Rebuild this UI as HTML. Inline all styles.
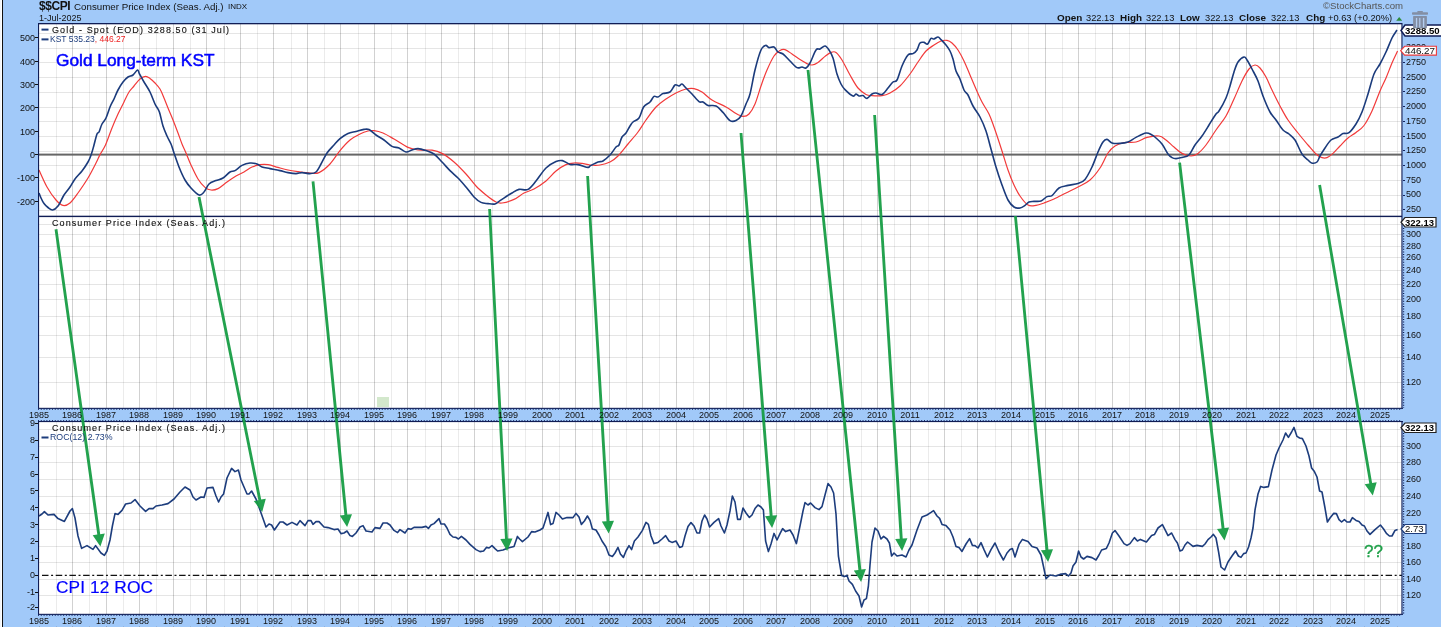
<!DOCTYPE html>
<html><head><meta charset="utf-8"><title>$$CPI</title>
<style>
html,body{margin:0;padding:0;}
body{width:1441px;height:627px;background:#a1c9f9;position:relative;overflow:hidden;font-family:"Liberation Sans",sans-serif;}
.t{position:absolute;white-space:nowrap;will-change:transform;font-family:"Liberation Sans",sans-serif;}
</style></head><body>
<svg width="1441" height="627" viewBox="0 0 1441 627" style="position:absolute;left:0;top:0">
<rect x="0" y="0" width="1" height="627" fill="#f3f6fa"/>
<rect x="1" y="0" width="1" height="627" fill="#ffffff"/>
<rect x="2" y="0" width="1" height="627" fill="#111111"/>
<rect x="38" y="23" width="1364" height="385" fill="#fff"/>
<rect x="38" y="421" width="1364" height="193" fill="#fff"/>
<g shape-rendering="crispEdges"><rect x="56" y="23" width="1" height="385" fill="#000" fill-opacity="0.08"/><rect x="72" y="23" width="1" height="385" fill="#000" fill-opacity="0.18"/><rect x="89" y="23" width="1" height="385" fill="#000" fill-opacity="0.08"/><rect x="106" y="23" width="1" height="385" fill="#000" fill-opacity="0.18"/><rect x="123" y="23" width="1" height="385" fill="#000" fill-opacity="0.08"/><rect x="139" y="23" width="1" height="385" fill="#000" fill-opacity="0.18"/><rect x="156" y="23" width="1" height="385" fill="#000" fill-opacity="0.08"/><rect x="173" y="23" width="1" height="385" fill="#000" fill-opacity="0.18"/><rect x="190" y="23" width="1" height="385" fill="#000" fill-opacity="0.08"/><rect x="206" y="23" width="1" height="385" fill="#000" fill-opacity="0.18"/><rect x="224" y="23" width="1" height="385" fill="#000" fill-opacity="0.08"/><rect x="240" y="23" width="1" height="385" fill="#000" fill-opacity="0.18"/><rect x="257" y="23" width="1" height="385" fill="#000" fill-opacity="0.08"/><rect x="273" y="23" width="1" height="385" fill="#000" fill-opacity="0.18"/><rect x="291" y="23" width="1" height="385" fill="#000" fill-opacity="0.08"/><rect x="307" y="23" width="1" height="385" fill="#000" fill-opacity="0.18"/><rect x="324" y="23" width="1" height="385" fill="#000" fill-opacity="0.08"/><rect x="340" y="23" width="1" height="385" fill="#000" fill-opacity="0.18"/><rect x="358" y="23" width="1" height="385" fill="#000" fill-opacity="0.08"/><rect x="374" y="23" width="1" height="385" fill="#000" fill-opacity="0.18"/><rect x="391" y="23" width="1" height="385" fill="#000" fill-opacity="0.08"/><rect x="407" y="23" width="1" height="385" fill="#000" fill-opacity="0.18"/><rect x="425" y="23" width="1" height="385" fill="#000" fill-opacity="0.08"/><rect x="441" y="23" width="1" height="385" fill="#000" fill-opacity="0.18"/><rect x="458" y="23" width="1" height="385" fill="#000" fill-opacity="0.08"/><rect x="474" y="23" width="1" height="385" fill="#000" fill-opacity="0.18"/><rect x="492" y="23" width="1" height="385" fill="#000" fill-opacity="0.08"/><rect x="508" y="23" width="1" height="385" fill="#000" fill-opacity="0.18"/><rect x="525" y="23" width="1" height="385" fill="#000" fill-opacity="0.08"/><rect x="542" y="23" width="1" height="385" fill="#000" fill-opacity="0.18"/><rect x="559" y="23" width="1" height="385" fill="#000" fill-opacity="0.08"/><rect x="575" y="23" width="1" height="385" fill="#000" fill-opacity="0.18"/><rect x="592" y="23" width="1" height="385" fill="#000" fill-opacity="0.08"/><rect x="609" y="23" width="1" height="385" fill="#000" fill-opacity="0.18"/><rect x="626" y="23" width="1" height="385" fill="#000" fill-opacity="0.08"/><rect x="642" y="23" width="1" height="385" fill="#000" fill-opacity="0.18"/><rect x="659" y="23" width="1" height="385" fill="#000" fill-opacity="0.08"/><rect x="676" y="23" width="1" height="385" fill="#000" fill-opacity="0.18"/><rect x="693" y="23" width="1" height="385" fill="#000" fill-opacity="0.08"/><rect x="709" y="23" width="1" height="385" fill="#000" fill-opacity="0.18"/><rect x="726" y="23" width="1" height="385" fill="#000" fill-opacity="0.08"/><rect x="743" y="23" width="1" height="385" fill="#000" fill-opacity="0.18"/><rect x="760" y="23" width="1" height="385" fill="#000" fill-opacity="0.08"/><rect x="776" y="23" width="1" height="385" fill="#000" fill-opacity="0.18"/><rect x="794" y="23" width="1" height="385" fill="#000" fill-opacity="0.08"/><rect x="810" y="23" width="1" height="385" fill="#000" fill-opacity="0.18"/><rect x="827" y="23" width="1" height="385" fill="#000" fill-opacity="0.08"/><rect x="843" y="23" width="1" height="385" fill="#000" fill-opacity="0.18"/><rect x="861" y="23" width="1" height="385" fill="#000" fill-opacity="0.08"/><rect x="877" y="23" width="1" height="385" fill="#000" fill-opacity="0.18"/><rect x="894" y="23" width="1" height="385" fill="#000" fill-opacity="0.08"/><rect x="910" y="23" width="1" height="385" fill="#000" fill-opacity="0.18"/><rect x="928" y="23" width="1" height="385" fill="#000" fill-opacity="0.08"/><rect x="944" y="23" width="1" height="385" fill="#000" fill-opacity="0.18"/><rect x="961" y="23" width="1" height="385" fill="#000" fill-opacity="0.08"/><rect x="977" y="23" width="1" height="385" fill="#000" fill-opacity="0.18"/><rect x="995" y="23" width="1" height="385" fill="#000" fill-opacity="0.08"/><rect x="1011" y="23" width="1" height="385" fill="#000" fill-opacity="0.18"/><rect x="1028" y="23" width="1" height="385" fill="#000" fill-opacity="0.08"/><rect x="1045" y="23" width="1" height="385" fill="#000" fill-opacity="0.18"/><rect x="1062" y="23" width="1" height="385" fill="#000" fill-opacity="0.08"/><rect x="1078" y="23" width="1" height="385" fill="#000" fill-opacity="0.18"/><rect x="1095" y="23" width="1" height="385" fill="#000" fill-opacity="0.08"/><rect x="1112" y="23" width="1" height="385" fill="#000" fill-opacity="0.18"/><rect x="1129" y="23" width="1" height="385" fill="#000" fill-opacity="0.08"/><rect x="1145" y="23" width="1" height="385" fill="#000" fill-opacity="0.18"/><rect x="1162" y="23" width="1" height="385" fill="#000" fill-opacity="0.08"/><rect x="1179" y="23" width="1" height="385" fill="#000" fill-opacity="0.18"/><rect x="1196" y="23" width="1" height="385" fill="#000" fill-opacity="0.08"/><rect x="1212" y="23" width="1" height="385" fill="#000" fill-opacity="0.18"/><rect x="1229" y="23" width="1" height="385" fill="#000" fill-opacity="0.08"/><rect x="1246" y="23" width="1" height="385" fill="#000" fill-opacity="0.18"/><rect x="1263" y="23" width="1" height="385" fill="#000" fill-opacity="0.08"/><rect x="1279" y="23" width="1" height="385" fill="#000" fill-opacity="0.18"/><rect x="1296" y="23" width="1" height="385" fill="#000" fill-opacity="0.08"/><rect x="1313" y="23" width="1" height="385" fill="#000" fill-opacity="0.18"/><rect x="1330" y="23" width="1" height="385" fill="#000" fill-opacity="0.08"/><rect x="1346" y="23" width="1" height="385" fill="#000" fill-opacity="0.18"/><rect x="1364" y="23" width="1" height="385" fill="#000" fill-opacity="0.08"/><rect x="1380" y="23" width="1" height="385" fill="#000" fill-opacity="0.18"/><rect x="1397" y="23" width="1" height="385" fill="#000" fill-opacity="0.08"/><rect x="56" y="421" width="1" height="193" fill="#000" fill-opacity="0.08"/><rect x="72" y="421" width="1" height="193" fill="#000" fill-opacity="0.18"/><rect x="89" y="421" width="1" height="193" fill="#000" fill-opacity="0.08"/><rect x="106" y="421" width="1" height="193" fill="#000" fill-opacity="0.18"/><rect x="123" y="421" width="1" height="193" fill="#000" fill-opacity="0.08"/><rect x="139" y="421" width="1" height="193" fill="#000" fill-opacity="0.18"/><rect x="156" y="421" width="1" height="193" fill="#000" fill-opacity="0.08"/><rect x="173" y="421" width="1" height="193" fill="#000" fill-opacity="0.18"/><rect x="190" y="421" width="1" height="193" fill="#000" fill-opacity="0.08"/><rect x="206" y="421" width="1" height="193" fill="#000" fill-opacity="0.18"/><rect x="224" y="421" width="1" height="193" fill="#000" fill-opacity="0.08"/><rect x="240" y="421" width="1" height="193" fill="#000" fill-opacity="0.18"/><rect x="257" y="421" width="1" height="193" fill="#000" fill-opacity="0.08"/><rect x="273" y="421" width="1" height="193" fill="#000" fill-opacity="0.18"/><rect x="291" y="421" width="1" height="193" fill="#000" fill-opacity="0.08"/><rect x="307" y="421" width="1" height="193" fill="#000" fill-opacity="0.18"/><rect x="324" y="421" width="1" height="193" fill="#000" fill-opacity="0.08"/><rect x="340" y="421" width="1" height="193" fill="#000" fill-opacity="0.18"/><rect x="358" y="421" width="1" height="193" fill="#000" fill-opacity="0.08"/><rect x="374" y="421" width="1" height="193" fill="#000" fill-opacity="0.18"/><rect x="391" y="421" width="1" height="193" fill="#000" fill-opacity="0.08"/><rect x="407" y="421" width="1" height="193" fill="#000" fill-opacity="0.18"/><rect x="425" y="421" width="1" height="193" fill="#000" fill-opacity="0.08"/><rect x="441" y="421" width="1" height="193" fill="#000" fill-opacity="0.18"/><rect x="458" y="421" width="1" height="193" fill="#000" fill-opacity="0.08"/><rect x="474" y="421" width="1" height="193" fill="#000" fill-opacity="0.18"/><rect x="492" y="421" width="1" height="193" fill="#000" fill-opacity="0.08"/><rect x="508" y="421" width="1" height="193" fill="#000" fill-opacity="0.18"/><rect x="525" y="421" width="1" height="193" fill="#000" fill-opacity="0.08"/><rect x="542" y="421" width="1" height="193" fill="#000" fill-opacity="0.18"/><rect x="559" y="421" width="1" height="193" fill="#000" fill-opacity="0.08"/><rect x="575" y="421" width="1" height="193" fill="#000" fill-opacity="0.18"/><rect x="592" y="421" width="1" height="193" fill="#000" fill-opacity="0.08"/><rect x="609" y="421" width="1" height="193" fill="#000" fill-opacity="0.18"/><rect x="626" y="421" width="1" height="193" fill="#000" fill-opacity="0.08"/><rect x="642" y="421" width="1" height="193" fill="#000" fill-opacity="0.18"/><rect x="659" y="421" width="1" height="193" fill="#000" fill-opacity="0.08"/><rect x="676" y="421" width="1" height="193" fill="#000" fill-opacity="0.18"/><rect x="693" y="421" width="1" height="193" fill="#000" fill-opacity="0.08"/><rect x="709" y="421" width="1" height="193" fill="#000" fill-opacity="0.18"/><rect x="726" y="421" width="1" height="193" fill="#000" fill-opacity="0.08"/><rect x="743" y="421" width="1" height="193" fill="#000" fill-opacity="0.18"/><rect x="760" y="421" width="1" height="193" fill="#000" fill-opacity="0.08"/><rect x="776" y="421" width="1" height="193" fill="#000" fill-opacity="0.18"/><rect x="794" y="421" width="1" height="193" fill="#000" fill-opacity="0.08"/><rect x="810" y="421" width="1" height="193" fill="#000" fill-opacity="0.18"/><rect x="827" y="421" width="1" height="193" fill="#000" fill-opacity="0.08"/><rect x="843" y="421" width="1" height="193" fill="#000" fill-opacity="0.18"/><rect x="861" y="421" width="1" height="193" fill="#000" fill-opacity="0.08"/><rect x="877" y="421" width="1" height="193" fill="#000" fill-opacity="0.18"/><rect x="894" y="421" width="1" height="193" fill="#000" fill-opacity="0.08"/><rect x="910" y="421" width="1" height="193" fill="#000" fill-opacity="0.18"/><rect x="928" y="421" width="1" height="193" fill="#000" fill-opacity="0.08"/><rect x="944" y="421" width="1" height="193" fill="#000" fill-opacity="0.18"/><rect x="961" y="421" width="1" height="193" fill="#000" fill-opacity="0.08"/><rect x="977" y="421" width="1" height="193" fill="#000" fill-opacity="0.18"/><rect x="995" y="421" width="1" height="193" fill="#000" fill-opacity="0.08"/><rect x="1011" y="421" width="1" height="193" fill="#000" fill-opacity="0.18"/><rect x="1028" y="421" width="1" height="193" fill="#000" fill-opacity="0.08"/><rect x="1045" y="421" width="1" height="193" fill="#000" fill-opacity="0.18"/><rect x="1062" y="421" width="1" height="193" fill="#000" fill-opacity="0.08"/><rect x="1078" y="421" width="1" height="193" fill="#000" fill-opacity="0.18"/><rect x="1095" y="421" width="1" height="193" fill="#000" fill-opacity="0.08"/><rect x="1112" y="421" width="1" height="193" fill="#000" fill-opacity="0.18"/><rect x="1129" y="421" width="1" height="193" fill="#000" fill-opacity="0.08"/><rect x="1145" y="421" width="1" height="193" fill="#000" fill-opacity="0.18"/><rect x="1162" y="421" width="1" height="193" fill="#000" fill-opacity="0.08"/><rect x="1179" y="421" width="1" height="193" fill="#000" fill-opacity="0.18"/><rect x="1196" y="421" width="1" height="193" fill="#000" fill-opacity="0.08"/><rect x="1212" y="421" width="1" height="193" fill="#000" fill-opacity="0.18"/><rect x="1229" y="421" width="1" height="193" fill="#000" fill-opacity="0.08"/><rect x="1246" y="421" width="1" height="193" fill="#000" fill-opacity="0.18"/><rect x="1263" y="421" width="1" height="193" fill="#000" fill-opacity="0.08"/><rect x="1279" y="421" width="1" height="193" fill="#000" fill-opacity="0.18"/><rect x="1296" y="421" width="1" height="193" fill="#000" fill-opacity="0.08"/><rect x="1313" y="421" width="1" height="193" fill="#000" fill-opacity="0.18"/><rect x="1330" y="421" width="1" height="193" fill="#000" fill-opacity="0.08"/><rect x="1346" y="421" width="1" height="193" fill="#000" fill-opacity="0.18"/><rect x="1364" y="421" width="1" height="193" fill="#000" fill-opacity="0.08"/><rect x="1380" y="421" width="1" height="193" fill="#000" fill-opacity="0.18"/><rect x="1397" y="421" width="1" height="193" fill="#000" fill-opacity="0.08"/><rect x="38" y="33" width="1364" height="1" fill="#000" fill-opacity="0.10"/><rect x="38" y="48" width="1364" height="1" fill="#000" fill-opacity="0.10"/><rect x="38" y="62" width="1364" height="1" fill="#000" fill-opacity="0.10"/><rect x="38" y="77" width="1364" height="1" fill="#000" fill-opacity="0.10"/><rect x="38" y="92" width="1364" height="1" fill="#000" fill-opacity="0.10"/><rect x="38" y="107" width="1364" height="1" fill="#000" fill-opacity="0.10"/><rect x="38" y="121" width="1364" height="1" fill="#000" fill-opacity="0.10"/><rect x="38" y="136" width="1364" height="1" fill="#000" fill-opacity="0.10"/><rect x="38" y="151" width="1364" height="1" fill="#000" fill-opacity="0.10"/><rect x="38" y="165" width="1364" height="1" fill="#000" fill-opacity="0.10"/><rect x="38" y="180" width="1364" height="1" fill="#000" fill-opacity="0.10"/><rect x="38" y="195" width="1364" height="1" fill="#000" fill-opacity="0.10"/><rect x="38" y="210" width="1364" height="1" fill="#000" fill-opacity="0.10"/><rect x="38" y="224" width="1364" height="1" fill="#000" fill-opacity="0.10"/><rect x="38" y="234" width="1364" height="1" fill="#000" fill-opacity="0.10"/><rect x="38" y="246" width="1364" height="1" fill="#000" fill-opacity="0.10"/><rect x="38" y="257" width="1364" height="1" fill="#000" fill-opacity="0.10"/><rect x="38" y="270" width="1364" height="1" fill="#000" fill-opacity="0.10"/><rect x="38" y="284" width="1364" height="1" fill="#000" fill-opacity="0.10"/><rect x="38" y="299" width="1364" height="1" fill="#000" fill-opacity="0.10"/><rect x="38" y="316" width="1364" height="1" fill="#000" fill-opacity="0.10"/><rect x="38" y="335" width="1364" height="1" fill="#000" fill-opacity="0.10"/><rect x="38" y="357" width="1364" height="1" fill="#000" fill-opacity="0.10"/><rect x="38" y="382" width="1364" height="1" fill="#000" fill-opacity="0.10"/><rect x="38" y="429" width="1364" height="1" fill="#000" fill-opacity="0.10"/><rect x="38" y="446" width="1364" height="1" fill="#000" fill-opacity="0.10"/><rect x="38" y="462" width="1364" height="1" fill="#000" fill-opacity="0.10"/><rect x="38" y="479" width="1364" height="1" fill="#000" fill-opacity="0.10"/><rect x="38" y="496" width="1364" height="1" fill="#000" fill-opacity="0.10"/><rect x="38" y="513" width="1364" height="1" fill="#000" fill-opacity="0.10"/><rect x="38" y="529" width="1364" height="1" fill="#000" fill-opacity="0.10"/><rect x="38" y="546" width="1364" height="1" fill="#000" fill-opacity="0.10"/><rect x="38" y="562" width="1364" height="1" fill="#000" fill-opacity="0.10"/><rect x="38" y="579" width="1364" height="1" fill="#000" fill-opacity="0.10"/><rect x="38" y="595" width="1364" height="1" fill="#000" fill-opacity="0.10"/></g>
<rect x="39" y="626" width="1" height="1" fill="#8fa6c4"/>
<rect x="56" y="626" width="1" height="1" fill="#97b4da"/>
<rect x="72" y="626" width="1" height="1" fill="#8fa6c4"/>
<rect x="89" y="626" width="1" height="1" fill="#97b4da"/>
<rect x="106" y="626" width="1" height="1" fill="#8fa6c4"/>
<rect x="123" y="626" width="1" height="1" fill="#97b4da"/>
<rect x="139" y="626" width="1" height="1" fill="#8fa6c4"/>
<rect x="156" y="626" width="1" height="1" fill="#97b4da"/>
<rect x="173" y="626" width="1" height="1" fill="#8fa6c4"/>
<rect x="190" y="626" width="1" height="1" fill="#97b4da"/>
<rect x="206" y="626" width="1" height="1" fill="#8fa6c4"/>
<rect x="224" y="626" width="1" height="1" fill="#97b4da"/>
<rect x="240" y="626" width="1" height="1" fill="#8fa6c4"/>
<rect x="257" y="626" width="1" height="1" fill="#97b4da"/>
<rect x="273" y="626" width="1" height="1" fill="#8fa6c4"/>
<rect x="291" y="626" width="1" height="1" fill="#97b4da"/>
<rect x="307" y="626" width="1" height="1" fill="#8fa6c4"/>
<rect x="324" y="626" width="1" height="1" fill="#97b4da"/>
<rect x="340" y="626" width="1" height="1" fill="#8fa6c4"/>
<rect x="358" y="626" width="1" height="1" fill="#97b4da"/>
<rect x="374" y="626" width="1" height="1" fill="#8fa6c4"/>
<rect x="391" y="626" width="1" height="1" fill="#97b4da"/>
<rect x="407" y="626" width="1" height="1" fill="#8fa6c4"/>
<rect x="425" y="626" width="1" height="1" fill="#97b4da"/>
<rect x="441" y="626" width="1" height="1" fill="#8fa6c4"/>
<rect x="458" y="626" width="1" height="1" fill="#97b4da"/>
<rect x="474" y="626" width="1" height="1" fill="#8fa6c4"/>
<rect x="492" y="626" width="1" height="1" fill="#97b4da"/>
<rect x="508" y="626" width="1" height="1" fill="#8fa6c4"/>
<rect x="525" y="626" width="1" height="1" fill="#97b4da"/>
<rect x="542" y="626" width="1" height="1" fill="#8fa6c4"/>
<rect x="559" y="626" width="1" height="1" fill="#97b4da"/>
<rect x="575" y="626" width="1" height="1" fill="#8fa6c4"/>
<rect x="592" y="626" width="1" height="1" fill="#97b4da"/>
<rect x="609" y="626" width="1" height="1" fill="#8fa6c4"/>
<rect x="626" y="626" width="1" height="1" fill="#97b4da"/>
<rect x="642" y="626" width="1" height="1" fill="#8fa6c4"/>
<rect x="659" y="626" width="1" height="1" fill="#97b4da"/>
<rect x="676" y="626" width="1" height="1" fill="#8fa6c4"/>
<rect x="693" y="626" width="1" height="1" fill="#97b4da"/>
<rect x="709" y="626" width="1" height="1" fill="#8fa6c4"/>
<rect x="726" y="626" width="1" height="1" fill="#97b4da"/>
<rect x="743" y="626" width="1" height="1" fill="#8fa6c4"/>
<rect x="760" y="626" width="1" height="1" fill="#97b4da"/>
<rect x="776" y="626" width="1" height="1" fill="#8fa6c4"/>
<rect x="794" y="626" width="1" height="1" fill="#97b4da"/>
<rect x="810" y="626" width="1" height="1" fill="#8fa6c4"/>
<rect x="827" y="626" width="1" height="1" fill="#97b4da"/>
<rect x="843" y="626" width="1" height="1" fill="#8fa6c4"/>
<rect x="861" y="626" width="1" height="1" fill="#97b4da"/>
<rect x="877" y="626" width="1" height="1" fill="#8fa6c4"/>
<rect x="894" y="626" width="1" height="1" fill="#97b4da"/>
<rect x="910" y="626" width="1" height="1" fill="#8fa6c4"/>
<rect x="928" y="626" width="1" height="1" fill="#97b4da"/>
<rect x="944" y="626" width="1" height="1" fill="#8fa6c4"/>
<rect x="961" y="626" width="1" height="1" fill="#97b4da"/>
<rect x="977" y="626" width="1" height="1" fill="#8fa6c4"/>
<rect x="995" y="626" width="1" height="1" fill="#97b4da"/>
<rect x="1011" y="626" width="1" height="1" fill="#8fa6c4"/>
<rect x="1028" y="626" width="1" height="1" fill="#97b4da"/>
<rect x="1045" y="626" width="1" height="1" fill="#8fa6c4"/>
<rect x="1062" y="626" width="1" height="1" fill="#97b4da"/>
<rect x="1078" y="626" width="1" height="1" fill="#8fa6c4"/>
<rect x="1095" y="626" width="1" height="1" fill="#97b4da"/>
<rect x="1112" y="626" width="1" height="1" fill="#8fa6c4"/>
<rect x="1129" y="626" width="1" height="1" fill="#97b4da"/>
<rect x="1145" y="626" width="1" height="1" fill="#8fa6c4"/>
<rect x="1162" y="626" width="1" height="1" fill="#97b4da"/>
<rect x="1179" y="626" width="1" height="1" fill="#8fa6c4"/>
<rect x="1196" y="626" width="1" height="1" fill="#97b4da"/>
<rect x="1212" y="626" width="1" height="1" fill="#8fa6c4"/>
<rect x="1229" y="626" width="1" height="1" fill="#97b4da"/>
<rect x="1246" y="626" width="1" height="1" fill="#8fa6c4"/>
<rect x="1263" y="626" width="1" height="1" fill="#97b4da"/>
<rect x="1279" y="626" width="1" height="1" fill="#8fa6c4"/>
<rect x="1296" y="626" width="1" height="1" fill="#97b4da"/>
<rect x="1313" y="626" width="1" height="1" fill="#8fa6c4"/>
<rect x="1330" y="626" width="1" height="1" fill="#97b4da"/>
<rect x="1346" y="626" width="1" height="1" fill="#8fa6c4"/>
<rect x="1364" y="626" width="1" height="1" fill="#97b4da"/>
<rect x="1380" y="626" width="1" height="1" fill="#8fa6c4"/>
<rect x="1397" y="626" width="1" height="1" fill="#97b4da"/>
<rect x="377" y="397" width="12" height="10" fill="#d3e8cc"/>
<rect x="38" y="153.6" width="1364" height="2" fill="#666"/>
<line x1="42" y1="575.3" x2="1402" y2="575.3" stroke="#111" stroke-width="1.2" stroke-dasharray="6.5,2.6,2,2.61"/>
<path d="M39.0,170.0 C40.3,172.8 44.2,182.0 47.0,187.0 C49.8,192.0 53.3,196.9 56.0,200.0 C58.7,203.1 60.7,204.9 63.0,205.4 C65.3,205.9 67.5,205.1 70.0,203.0 C72.5,200.9 75.0,197.2 78.0,193.0 C81.0,188.8 85.0,183.0 88.0,178.0 C91.0,173.0 94.0,166.9 96.0,163.0 C98.0,159.1 98.4,157.6 100.0,154.6 C101.6,151.6 103.5,149.4 105.5,145.0 C107.5,140.6 109.9,133.2 112.0,128.0 C114.1,122.8 116.0,118.3 118.0,114.0 C120.0,109.7 122.2,105.7 124.0,102.0 C125.8,98.3 127.3,94.7 129.0,92.0 C130.7,89.3 132.2,88.2 134.0,86.0 C135.8,83.8 138.1,80.6 140.0,79.0 C141.9,77.4 143.8,76.5 145.5,76.4 C147.2,76.3 148.4,77.3 150.0,78.4 C151.6,79.5 153.3,81.2 155.0,83.0 C156.7,84.8 158.5,86.5 160.0,89.0 C161.5,91.5 162.7,94.8 164.0,98.0 C165.3,101.2 166.5,104.3 168.0,108.0 C169.5,111.7 171.3,115.8 173.0,120.0 C174.7,124.2 176.5,129.0 178.0,133.0 C179.5,137.0 180.7,140.7 182.0,144.0 C183.3,147.3 184.5,149.5 186.0,153.0 C187.5,156.5 189.0,160.7 191.0,165.0 C193.0,169.3 195.7,175.3 198.0,179.0 C200.3,182.7 202.8,185.6 205.0,187.4 C207.2,189.2 208.8,189.8 211.0,190.0 C213.2,190.2 215.3,189.9 218.0,188.6 C220.7,187.3 224.0,184.1 227.0,182.0 C230.0,179.9 233.2,177.7 236.0,176.0 C238.8,174.3 241.3,173.5 244.0,172.0 C246.7,170.5 249.3,168.2 252.0,167.0 C254.7,165.8 257.3,165.0 260.0,164.6 C262.7,164.2 265.0,164.1 268.0,164.6 C271.0,165.1 274.7,166.5 278.0,167.4 C281.3,168.3 284.7,169.3 288.0,170.0 C291.3,170.7 294.3,171.1 298.0,171.6 C301.7,172.1 306.5,172.8 310.0,173.0 C313.5,173.2 315.7,174.1 319.0,172.6 C322.3,171.1 326.5,167.7 330.0,164.0 C333.5,160.3 336.7,154.6 340.0,150.6 C343.3,146.6 346.7,142.8 350.0,140.0 C353.3,137.2 357.0,135.5 360.0,134.0 C363.0,132.5 365.7,131.6 368.0,131.0 C370.3,130.4 371.5,130.3 374.0,130.6 C376.5,130.9 379.7,131.6 383.0,133.0 C386.3,134.4 389.8,136.6 394.0,139.0 C398.2,141.4 404.0,145.6 408.0,147.4 C412.0,149.2 414.0,149.5 418.0,150.0 C422.0,150.5 428.0,149.6 432.0,150.2 C436.0,150.8 438.3,151.4 442.0,153.4 C445.7,155.4 450.0,158.6 454.0,162.0 C458.0,165.4 462.3,170.0 466.0,174.0 C469.7,178.0 472.7,182.5 476.0,186.0 C479.3,189.5 482.7,192.3 486.0,195.0 C489.3,197.7 493.3,200.7 496.0,202.0 C498.7,203.3 499.0,203.4 502.0,203.0 C505.0,202.6 510.3,201.1 514.0,199.4 C517.7,197.7 520.7,194.7 524.0,193.0 C527.3,191.3 530.3,191.0 534.0,189.0 C537.7,187.0 542.3,184.0 546.0,181.0 C549.7,178.0 552.7,173.7 556.0,171.0 C559.3,168.3 563.0,165.9 566.0,164.6 C569.0,163.3 571.3,163.2 574.0,163.0 C576.7,162.8 579.3,163.1 582.0,163.4 C584.7,163.7 587.0,164.7 590.0,165.0 C593.0,165.3 596.7,165.5 600.0,165.0 C603.3,164.5 607.0,163.5 610.0,162.0 C613.0,160.5 615.0,159.0 618.0,156.0 C621.0,153.0 624.7,148.0 628.0,144.0 C631.3,140.0 635.0,136.0 638.0,132.0 C641.0,128.0 643.0,124.2 646.0,120.0 C649.0,115.8 652.7,110.5 656.0,107.0 C659.3,103.5 662.7,101.3 666.0,99.0 C669.3,96.7 672.7,94.7 676.0,93.0 C679.3,91.3 683.0,89.7 686.0,89.0 C689.0,88.3 691.3,88.1 694.0,88.6 C696.7,89.1 699.0,90.1 702.0,92.0 C705.0,93.9 708.0,97.5 712.0,100.0 C716.0,102.5 722.0,104.7 726.0,107.0 C730.0,109.3 733.2,112.0 736.0,113.6 C738.8,115.2 740.8,116.3 743.0,116.4 C745.2,116.5 747.0,116.1 749.0,114.0 C751.0,111.9 753.0,108.7 755.0,104.0 C757.0,99.3 759.0,91.7 761.0,86.0 C763.0,80.3 764.8,75.0 767.0,70.0 C769.2,65.0 771.8,59.3 774.0,56.0 C776.2,52.7 778.2,51.5 780.0,50.4 C781.8,49.3 783.0,49.0 785.0,49.6 C787.0,50.2 789.5,52.3 792.0,54.0 C794.5,55.7 797.5,58.0 800.0,59.6 C802.5,61.2 805.0,62.7 807.0,63.6 C809.0,64.5 810.2,65.2 812.0,65.0 C813.8,64.8 815.8,63.8 818.0,62.4 C820.2,61.0 822.8,58.1 825.0,56.4 C827.2,54.7 829.2,53.1 831.0,52.4 C832.8,51.7 834.2,51.1 836.0,52.4 C837.8,53.7 839.7,56.2 842.0,60.0 C844.3,63.8 847.3,70.3 850.0,75.0 C852.7,79.7 855.3,84.8 858.0,88.0 C860.7,91.2 863.7,93.1 866.0,94.4 C868.3,95.7 869.3,95.4 872.0,95.6 C874.7,95.8 879.0,96.0 882.0,95.6 C885.0,95.2 887.0,94.6 890.0,93.0 C893.0,91.4 896.7,89.2 900.0,86.0 C903.3,82.8 907.0,78.0 910.0,74.0 C913.0,70.0 915.3,65.8 918.0,62.0 C920.7,58.2 923.3,53.8 926.0,51.0 C928.7,48.2 931.5,46.7 934.0,45.0 C936.5,43.3 938.8,41.8 941.0,41.0 C943.2,40.2 945.2,40.1 947.0,40.4 C948.8,40.7 950.2,41.4 952.0,43.0 C953.8,44.6 956.0,47.0 958.0,50.0 C960.0,53.0 962.0,56.8 964.0,61.0 C966.0,65.2 968.0,70.3 970.0,75.0 C972.0,79.7 974.0,84.5 976.0,89.0 C978.0,93.5 979.8,97.8 982.0,102.0 C984.2,106.2 987.0,109.8 989.0,114.0 C991.0,118.2 991.8,120.8 994.0,127.0 C996.2,133.2 999.7,143.8 1002.0,151.0 C1004.3,158.2 1006.0,164.3 1008.0,170.0 C1010.0,175.7 1012.0,180.7 1014.0,185.0 C1016.0,189.3 1017.7,192.7 1020.0,196.0 C1022.3,199.3 1025.3,203.4 1028.0,205.0 C1030.7,206.6 1033.3,205.7 1036.0,205.4 C1038.7,205.1 1041.0,204.1 1044.0,203.0 C1047.0,201.9 1050.3,200.7 1054.0,199.0 C1057.7,197.3 1062.0,195.0 1066.0,193.0 C1070.0,191.0 1074.0,189.2 1078.0,187.0 C1082.0,184.8 1086.3,183.2 1090.0,180.0 C1093.7,176.8 1097.0,172.5 1100.0,168.0 C1103.0,163.5 1105.5,156.7 1108.0,153.0 C1110.5,149.3 1112.3,147.7 1115.0,146.0 C1117.7,144.3 1120.5,143.3 1124.0,142.6 C1127.5,141.9 1132.2,142.9 1136.0,142.0 C1139.8,141.1 1143.2,138.4 1147.0,137.4 C1150.8,136.4 1155.8,135.6 1159.0,136.0 C1162.2,136.4 1163.5,138.2 1166.0,140.0 C1168.5,141.8 1171.3,144.8 1174.0,147.0 C1176.7,149.2 1179.2,151.9 1182.0,153.4 C1184.8,154.9 1188.3,156.0 1191.0,156.0 C1193.7,156.0 1195.5,155.2 1198.0,153.4 C1200.5,151.6 1203.0,148.9 1206.0,145.0 C1209.0,141.1 1212.7,134.8 1216.0,130.0 C1219.3,125.2 1223.0,121.2 1226.0,116.0 C1229.0,110.8 1231.3,104.8 1234.0,99.0 C1236.7,93.2 1239.5,86.0 1242.0,81.0 C1244.5,76.0 1246.8,71.7 1249.0,69.0 C1251.2,66.3 1253.2,65.2 1255.0,65.0 C1256.8,64.8 1258.2,66.0 1260.0,68.0 C1261.8,70.0 1264.0,73.3 1266.0,77.0 C1268.0,80.7 1269.7,85.2 1272.0,90.0 C1274.3,94.8 1277.3,101.0 1280.0,106.0 C1282.7,111.0 1285.0,115.5 1288.0,120.0 C1291.0,124.5 1294.7,128.8 1298.0,133.0 C1301.3,137.2 1305.0,141.5 1308.0,145.0 C1311.0,148.5 1313.7,151.9 1316.0,154.0 C1318.3,156.1 1320.2,157.0 1322.0,157.6 C1323.8,158.2 1325.2,158.3 1327.0,157.6 C1328.8,156.9 1330.8,155.3 1333.0,153.4 C1335.2,151.5 1337.5,148.6 1340.0,146.0 C1342.5,143.4 1345.3,140.2 1348.0,138.0 C1350.7,135.8 1353.3,134.6 1356.0,132.5 C1358.7,130.4 1361.3,129.1 1364.0,125.5 C1366.7,121.9 1369.3,116.8 1372.0,111.0 C1374.7,105.2 1377.7,96.5 1380.0,91.0 C1382.3,85.5 1384.0,82.7 1386.0,78.0 C1388.0,73.3 1390.1,67.5 1392.0,63.0 C1393.9,58.5 1396.7,53.0 1397.6,51.0" fill="none" stroke="#f23a3a" stroke-width="1.2" stroke-linejoin="round"/>
<path d="M39.0,193.0 C39.3,193.8 40.2,196.2 41.0,198.0 C41.8,199.8 42.8,201.9 44.0,203.5 C45.2,205.1 46.6,206.4 48.0,207.5 C49.4,208.6 50.9,210.2 52.6,210.0 C54.3,209.8 56.1,208.5 58.0,206.0 C59.9,203.5 62.0,198.2 64.0,195.0 C66.0,191.8 68.2,189.7 70.0,187.0 C71.8,184.3 73.0,181.7 75.0,179.0 C77.0,176.3 79.8,173.8 82.0,171.0 C84.2,168.2 86.4,164.8 88.0,162.0 C89.6,159.2 90.4,156.8 91.4,154.0 C92.4,151.2 93.1,148.3 94.0,145.0 C94.9,141.7 96.2,136.2 97.0,134.0 C97.8,131.8 98.2,133.7 99.0,132.0 C99.8,130.3 100.8,126.3 102.0,124.0 C103.2,121.7 104.7,120.8 106.0,118.0 C107.3,115.2 108.7,110.2 110.0,107.0 C111.3,103.8 112.7,101.8 114.0,99.0 C115.3,96.2 116.5,92.8 118.0,90.0 C119.5,87.2 121.3,84.2 123.0,82.0 C124.7,79.8 126.3,78.2 128.0,77.0 C129.7,75.8 131.4,76.2 133.0,75.0 C134.6,73.8 136.4,70.2 137.5,70.0 C138.6,69.8 138.4,72.0 139.5,74.0 C140.6,76.0 142.2,79.0 144.0,82.0 C145.8,85.0 148.2,88.3 150.0,92.0 C151.8,95.7 153.7,101.2 155.0,104.0 C156.3,106.8 157.2,107.3 158.0,109.0 C158.8,110.7 159.2,111.2 160.0,114.0 C160.8,116.8 161.8,122.3 163.0,126.0 C164.2,129.7 165.7,133.0 167.0,136.0 C168.3,139.0 169.8,141.2 171.0,144.0 C172.2,146.8 172.7,149.2 174.0,153.0 C175.3,156.8 177.2,162.5 179.0,167.0 C180.8,171.5 183.0,176.5 185.0,180.0 C187.0,183.5 188.7,185.5 191.0,188.0 C193.3,190.5 196.8,194.3 199.0,195.0 C201.2,195.7 202.3,193.8 204.0,192.0 C205.7,190.2 207.0,185.9 209.0,184.0 C211.0,182.1 213.7,181.6 216.0,180.6 C218.3,179.6 220.7,179.4 223.0,178.0 C225.3,176.6 228.0,173.2 230.0,172.0 C232.0,170.8 233.0,171.7 235.0,170.6 C237.0,169.5 239.5,166.7 242.0,165.4 C244.5,164.1 247.5,163.2 250.0,163.0 C252.5,162.8 255.0,163.3 257.0,164.0 C259.0,164.7 259.8,166.2 262.0,167.0 C264.2,167.8 267.0,168.0 270.0,168.6 C273.0,169.2 277.0,169.9 280.0,170.6 C283.0,171.3 285.3,172.1 288.0,172.6 C290.7,173.1 293.7,173.6 296.0,173.6 C298.3,173.6 299.7,172.6 302.0,172.6 C304.3,172.6 307.7,173.7 310.0,173.6 C312.3,173.5 314.2,173.6 316.0,172.0 C317.8,170.4 319.2,167.2 321.0,164.0 C322.8,160.8 324.8,156.2 327.0,153.0 C329.2,149.8 331.8,147.4 334.0,145.0 C336.2,142.6 337.7,140.5 340.0,138.6 C342.3,136.7 345.3,134.6 348.0,133.4 C350.7,132.2 353.3,132.1 356.0,131.4 C358.7,130.7 361.8,129.7 364.0,129.4 C366.2,129.1 367.0,128.7 369.0,129.6 C371.0,130.5 373.5,133.3 376.0,135.0 C378.5,136.7 381.3,138.1 384.0,140.0 C386.7,141.9 389.5,145.1 392.0,146.4 C394.5,147.7 396.7,147.1 399.0,148.0 C401.3,148.9 403.8,151.7 406.0,152.0 C408.2,152.3 410.0,150.6 412.0,150.0 C414.0,149.4 415.7,148.5 418.0,148.6 C420.3,148.7 423.3,149.7 426.0,150.6 C428.7,151.5 431.3,152.1 434.0,154.0 C436.7,155.9 439.3,159.2 442.0,162.0 C444.7,164.8 447.3,167.9 450.0,170.6 C452.7,173.3 455.3,175.3 458.0,178.0 C460.7,180.7 463.3,183.8 466.0,187.0 C468.7,190.2 471.5,194.4 474.0,197.0 C476.5,199.6 478.7,201.3 481.0,202.4 C483.3,203.5 485.7,203.3 488.0,203.6 C490.3,203.9 493.0,204.5 495.0,204.0 C497.0,203.5 498.0,201.9 500.0,200.6 C502.0,199.3 505.0,197.3 507.0,196.0 C509.0,194.7 510.0,194.1 512.0,193.0 C514.0,191.9 516.3,190.0 519.0,189.4 C521.7,188.8 525.2,190.8 528.0,189.4 C530.8,188.0 533.0,184.6 536.0,181.0 C539.0,177.4 542.7,171.2 546.0,168.0 C549.3,164.8 553.3,162.8 556.0,161.6 C558.7,160.4 560.1,160.1 562.4,160.6 C564.7,161.1 567.4,163.7 570.0,164.4 C572.6,165.1 575.0,164.1 578.0,164.6 C581.0,165.1 586.0,167.2 588.0,167.4 C590.0,167.6 588.3,166.9 590.0,166.0 C591.7,165.1 595.8,162.8 598.0,162.0 C600.2,161.2 601.0,162.2 603.0,161.0 C605.0,159.8 607.8,157.3 610.0,155.0 C612.2,152.7 614.5,148.7 616.0,147.0 C617.5,145.3 618.0,146.7 619.0,145.0 C620.0,143.3 620.8,139.0 622.0,137.0 C623.2,135.0 624.7,134.8 626.0,133.0 C627.3,131.2 628.8,127.8 630.0,126.0 C631.2,124.2 631.5,123.3 633.0,122.0 C634.5,120.7 637.2,120.5 639.0,118.0 C640.8,115.5 641.8,109.7 643.6,107.0 C645.4,104.3 648.3,103.8 650.0,102.0 C651.7,100.2 652.7,97.2 654.0,96.4 C655.3,95.6 656.5,97.5 658.0,97.0 C659.5,96.5 661.0,94.4 663.0,93.6 C665.0,92.8 668.0,93.4 670.0,92.0 C672.0,90.6 673.5,86.0 675.0,85.0 C676.5,84.0 677.8,86.2 679.0,86.0 C680.2,85.8 680.8,83.7 682.0,84.0 C683.2,84.3 684.3,86.3 686.0,88.0 C687.7,89.7 689.8,91.7 692.0,94.0 C694.2,96.3 697.2,100.3 699.0,101.6 C700.8,102.9 701.5,101.4 703.0,102.0 C704.5,102.6 705.8,104.7 708.0,105.4 C710.2,106.1 713.5,104.8 716.0,106.0 C718.5,107.2 720.7,110.0 723.0,112.4 C725.3,114.8 727.8,119.2 730.0,120.6 C732.2,122.0 734.2,121.4 736.0,120.6 C737.8,119.8 739.3,118.8 741.0,116.0 C742.7,113.2 744.5,107.7 746.0,104.0 C747.5,100.3 748.5,99.7 750.0,94.0 C751.5,88.3 753.2,77.3 755.0,70.0 C756.8,62.7 759.2,54.1 761.0,50.0 C762.8,45.9 764.3,45.8 765.6,45.4 C766.9,45.0 767.6,47.3 769.0,47.6 C770.4,47.9 772.5,46.3 774.0,47.0 C775.5,47.7 776.5,50.8 778.0,52.0 C779.5,53.2 781.0,52.5 783.0,54.0 C785.0,55.5 787.7,58.7 790.0,61.0 C792.3,63.3 795.0,66.6 797.0,67.6 C799.0,68.6 800.5,66.9 802.0,67.0 C803.5,67.1 804.7,68.7 806.0,68.0 C807.3,67.3 808.3,66.0 810.0,63.0 C811.7,60.0 814.3,52.3 816.0,50.0 C817.7,47.7 818.5,49.7 820.0,49.0 C821.5,48.3 823.5,45.8 825.0,46.0 C826.5,46.2 827.7,48.0 829.0,50.0 C830.3,52.0 831.7,54.0 833.0,58.0 C834.3,62.0 835.7,69.7 837.0,74.0 C838.3,78.3 839.7,81.4 841.0,84.0 C842.3,86.6 843.0,87.6 845.0,89.6 C847.0,91.6 851.2,95.3 853.0,96.0 C854.8,96.7 855.0,94.0 856.0,94.0 C857.0,94.0 857.8,95.7 859.0,96.0 C860.2,96.3 861.7,95.2 863.0,95.6 C864.3,96.0 865.5,98.7 867.0,98.4 C868.5,98.1 870.5,94.9 872.0,94.0 C873.5,93.1 874.3,92.9 876.0,93.0 C877.7,93.1 880.0,95.2 882.0,94.4 C884.0,93.6 886.2,90.1 888.0,88.0 C889.8,85.9 891.5,83.3 893.0,82.0 C894.5,80.7 895.5,82.7 897.0,80.0 C898.5,77.3 900.2,70.2 902.0,66.0 C903.8,61.8 906.2,57.1 908.0,55.0 C909.8,52.9 911.5,54.4 913.0,53.6 C914.5,52.8 915.8,51.8 917.0,50.0 C918.2,48.2 918.8,44.3 920.0,43.0 C921.2,41.7 922.7,42.2 924.0,42.4 C925.3,42.6 926.4,44.7 927.6,44.0 C928.8,43.3 929.9,39.2 931.0,38.4 C932.1,37.6 932.8,39.2 934.0,39.0 C935.2,38.8 936.8,36.9 938.0,37.0 C939.2,37.1 939.7,38.3 941.0,39.6 C942.3,40.9 944.5,43.1 946.0,45.0 C947.5,46.9 948.8,48.7 950.0,51.0 C951.2,53.3 952.0,55.7 953.0,59.0 C954.0,62.3 954.8,67.7 956.0,71.0 C957.2,74.3 958.7,75.8 960.0,79.0 C961.3,82.2 962.7,87.3 964.0,90.0 C965.3,92.7 966.5,92.3 968.0,95.0 C969.5,97.7 971.0,102.3 973.0,106.0 C975.0,109.7 977.8,112.8 980.0,117.0 C982.2,121.2 984.2,125.7 986.0,131.0 C987.8,136.3 989.3,143.0 991.0,149.0 C992.7,155.0 994.2,161.0 996.0,167.0 C997.8,173.0 1000.0,179.5 1002.0,185.0 C1004.0,190.5 1006.0,196.3 1008.0,200.0 C1010.0,203.7 1012.0,205.7 1014.0,207.0 C1016.0,208.3 1018.2,208.3 1020.0,208.0 C1021.8,207.7 1023.5,206.4 1025.0,205.4 C1026.5,204.4 1027.5,202.7 1029.0,202.0 C1030.5,201.3 1032.0,201.6 1034.0,201.4 C1036.0,201.2 1038.8,201.8 1041.0,201.0 C1043.2,200.2 1045.2,197.5 1047.0,196.6 C1048.8,195.7 1050.0,197.0 1052.0,195.6 C1054.0,194.2 1056.3,189.7 1059.0,188.0 C1061.7,186.3 1064.8,186.2 1068.0,185.4 C1071.2,184.6 1075.2,184.4 1078.0,183.4 C1080.8,182.4 1082.7,182.1 1085.0,179.4 C1087.3,176.7 1089.8,171.6 1092.0,167.0 C1094.2,162.4 1096.2,156.2 1098.0,152.0 C1099.8,147.8 1101.5,144.1 1103.0,142.0 C1104.5,139.9 1105.5,139.2 1107.0,139.4 C1108.5,139.6 1109.8,142.3 1112.0,143.0 C1114.2,143.7 1117.3,143.6 1120.0,143.4 C1122.7,143.2 1125.3,143.0 1128.0,142.0 C1130.7,141.0 1133.0,138.9 1136.0,137.4 C1139.0,135.9 1143.3,133.4 1146.0,133.0 C1148.7,132.6 1150.3,134.2 1152.0,135.0 C1153.7,135.8 1154.3,136.5 1156.0,138.0 C1157.7,139.5 1160.0,141.3 1162.0,144.0 C1164.0,146.7 1166.3,151.7 1168.0,154.0 C1169.7,156.3 1170.7,156.8 1172.0,157.6 C1173.3,158.4 1174.3,158.6 1176.0,158.6 C1177.7,158.6 1179.8,158.0 1182.0,157.4 C1184.2,156.8 1186.8,157.1 1189.0,155.0 C1191.2,152.9 1192.8,148.2 1195.0,145.0 C1197.2,141.8 1199.7,139.3 1202.0,136.0 C1204.3,132.7 1206.7,128.7 1209.0,125.0 C1211.3,121.3 1214.3,116.3 1216.0,114.0 C1217.7,111.7 1217.3,113.7 1219.0,111.0 C1220.7,108.3 1224.2,102.2 1226.0,98.0 C1227.8,93.8 1228.7,90.3 1230.0,86.0 C1231.3,81.7 1232.7,76.0 1234.0,72.0 C1235.3,68.0 1236.3,64.5 1238.0,62.0 C1239.7,59.5 1242.5,57.3 1244.0,57.0 C1245.5,56.7 1245.7,58.0 1247.0,60.0 C1248.3,62.0 1250.2,65.5 1252.0,69.0 C1253.8,72.5 1256.2,76.5 1258.0,81.0 C1259.8,85.5 1261.0,90.8 1263.0,96.0 C1265.0,101.2 1267.8,108.0 1270.0,112.0 C1272.2,116.0 1273.8,117.0 1276.0,120.0 C1278.2,123.0 1280.8,127.7 1283.0,130.0 C1285.2,132.3 1287.0,132.3 1289.0,134.0 C1291.0,135.7 1292.8,136.7 1295.0,140.0 C1297.2,143.3 1299.8,150.7 1302.0,154.0 C1304.2,157.3 1306.4,158.5 1308.0,160.0 C1309.6,161.5 1310.1,162.7 1311.6,163.0 C1313.1,163.3 1315.6,163.2 1317.0,162.0 C1318.4,160.8 1318.7,158.3 1320.0,156.0 C1321.3,153.7 1323.2,150.7 1325.0,148.0 C1326.8,145.3 1328.8,141.8 1331.0,140.0 C1333.2,138.2 1336.0,138.1 1338.0,137.0 C1340.0,135.9 1341.2,134.3 1343.0,133.6 C1344.8,132.9 1346.8,134.2 1349.0,132.6 C1351.2,131.0 1353.8,127.4 1356.0,124.0 C1358.2,120.6 1360.0,117.0 1362.0,112.0 C1364.0,107.0 1366.0,100.3 1368.0,94.0 C1370.0,87.7 1372.0,79.0 1374.0,74.0 C1376.0,69.0 1378.0,67.7 1380.0,64.0 C1382.0,60.3 1384.0,56.3 1386.0,52.0 C1388.0,47.7 1390.2,41.7 1392.0,38.0 C1393.8,34.3 1396.2,31.3 1397.0,30.0" fill="none" stroke="#1b3b7c" stroke-width="1.6" stroke-linejoin="round"/>
<path d="M39.0,516.0 L42.0,514.0 L44.4,511.6 L48.0,515.0 L54.0,514.4 L58.0,518.6 L64.4,521.4 L70.0,511.0 L72.4,508.6 L75.0,518.0 L78.0,536.0 L81.6,548.4 L87.0,545.6 L93.0,549.4 L95.6,545.6 L101.0,553.0 L104.4,555.4 L107.0,551.0 L110.0,540.0 L112.4,526.0 L115.0,513.6 L118.0,514.4 L122.0,510.4 L125.6,504.0 L131.0,503.0 L135.0,499.6 L140.0,506.0 L145.6,511.4 L149.0,508.6 L153.0,508.6 L156.0,506.0 L162.0,505.0 L168.0,503.6 L174.0,499.0 L180.0,492.0 L185.0,487.0 L190.0,490.0 L193.0,497.0 L196.0,500.0 L201.0,497.0 L204.0,497.4 L207.0,488.0 L213.0,487.4 L216.0,496.0 L218.6,502.0 L221.0,497.0 L223.6,494.0 L227.0,478.0 L231.6,468.4 L235.0,471.6 L238.4,470.0 L241.0,480.0 L247.0,494.0 L249.0,494.0 L251.6,491.0 L256.0,499.0 L260.0,510.0 L266.0,527.0 L269.0,524.0 L271.6,525.0 L274.4,530.0 L280.0,522.0 L283.0,522.0 L287.0,525.0 L292.0,522.4 L297.0,525.0 L300.0,520.6 L305.0,525.6 L308.0,520.6 L311.0,520.6 L313.0,524.4 L316.0,521.6 L319.0,521.6 L324.0,527.0 L328.0,527.6 L334.0,529.6 L338.0,529.0 L341.0,533.6 L344.0,533.0 L347.0,531.0 L350.0,535.6 L352.4,536.4 L356.0,533.0 L360.0,527.0 L363.0,525.6 L366.0,531.0 L372.0,532.0 L375.0,527.6 L380.0,528.4 L383.0,523.0 L387.0,523.0 L390.0,525.0 L394.0,530.4 L397.6,532.6 L400.0,529.6 L405.0,533.0 L408.0,528.6 L411.0,529.2 L414.0,527.4 L422.0,527.4 L426.0,526.4 L428.4,528.4 L431.0,525.0 L434.0,523.6 L439.0,518.6 L441.0,524.0 L444.4,524.0 L447.0,528.0 L450.0,534.4 L453.0,537.0 L456.0,537.4 L458.4,539.0 L461.4,536.4 L466.0,540.0 L470.0,544.4 L476.0,549.6 L480.0,551.6 L483.6,551.0 L486.4,547.4 L489.0,548.0 L492.0,545.6 L495.0,548.6 L497.6,551.0 L503.0,550.0 L508.0,548.0 L514.0,546.4 L517.4,536.4 L519.6,539.0 L522.4,541.6 L528.0,537.0 L531.6,531.6 L535.0,532.0 L540.0,530.0 L543.0,528.0 L545.6,520.0 L548.0,512.4 L550.6,524.6 L553.0,523.6 L556.0,512.4 L559.0,515.0 L562.4,519.0 L567.0,517.6 L573.0,517.6 L576.0,513.4 L579.0,517.0 L581.4,524.4 L584.4,521.0 L587.4,516.0 L590.0,520.4 L592.4,529.0 L596.0,530.0 L599.0,535.0 L602.0,541.0 L606.0,547.0 L609.0,555.0 L612.4,556.4 L615.0,553.0 L618.0,547.4 L620.4,554.0 L623.4,557.4 L626.0,551.0 L629.0,545.6 L631.6,549.6 L634.4,541.0 L638.0,537.0 L642.4,530.4 L646.0,522.4 L648.4,524.4 L651.0,536.0 L654.0,543.6 L658.0,542.4 L662.0,539.0 L665.6,535.6 L669.0,541.0 L672.0,542.4 L676.0,541.0 L679.6,547.4 L682.4,546.4 L685.0,536.0 L688.0,526.6 L691.0,522.6 L694.0,526.0 L697.0,533.0 L699.6,533.0 L702.0,521.0 L704.6,515.0 L707.0,519.0 L709.6,527.0 L714.0,522.4 L718.6,518.6 L721.0,526.0 L724.4,533.0 L727.0,525.0 L730.0,511.0 L732.4,496.0 L735.0,502.0 L737.6,519.4 L740.4,519.4 L743.0,508.0 L746.0,513.0 L749.4,517.4 L752.0,515.0 L755.0,508.6 L758.0,505.0 L761.0,507.0 L763.4,510.0 L765.6,541.0 L768.4,551.6 L771.0,544.0 L774.0,533.4 L777.0,540.0 L780.0,533.6 L782.6,528.6 L785.6,531.6 L790.0,530.0 L793.0,535.0 L796.4,543.6 L800.0,526.0 L803.0,511.0 L805.0,502.6 L808.0,505.0 L810.6,503.0 L815.0,507.6 L819.0,509.6 L822.0,506.6 L825.0,495.0 L828.0,483.6 L831.0,487.0 L833.6,493.0 L836.0,514.0 L838.4,556.0 L841.6,575.4 L844.4,576.6 L847.0,575.4 L849.0,581.0 L852.4,584.4 L855.6,591.0 L859.0,596.0 L861.6,607.0 L864.0,600.0 L866.4,598.6 L868.4,586.0 L870.0,565.0 L872.0,542.0 L875.0,528.0 L878.0,531.0 L881.0,539.0 L883.6,536.4 L887.0,539.0 L889.4,543.0 L891.6,556.0 L894.0,553.0 L897.0,556.0 L902.0,555.0 L906.0,557.0 L909.0,550.0 L912.0,545.0 L917.0,530.0 L922.0,517.0 L927.0,515.0 L931.0,512.4 L933.6,510.6 L937.0,516.0 L939.6,518.4 L942.0,524.4 L946.0,525.6 L950.0,530.0 L953.0,537.0 L956.0,546.4 L959.0,547.6 L962.0,551.4 L966.0,544.0 L969.6,538.6 L972.4,545.4 L975.0,545.6 L978.0,548.0 L981.0,542.6 L984.0,549.6 L987.4,557.0 L991.0,549.6 L995.0,543.0 L999.0,552.0 L1003.4,560.0 L1007.0,553.0 L1010.0,549.4 L1012.4,548.6 L1015.0,557.0 L1019.0,544.4 L1022.4,539.4 L1028.0,541.4 L1032.0,546.4 L1037.0,548.0 L1041.0,555.0 L1043.6,567.0 L1046.0,578.6 L1050.0,575.0 L1056.0,576.0 L1060.0,574.4 L1065.6,573.6 L1068.4,576.0 L1071.0,573.0 L1073.0,566.0 L1076.0,562.0 L1078.6,551.0 L1081.0,557.0 L1083.6,559.0 L1087.0,556.4 L1092.0,557.6 L1096.0,560.0 L1099.0,555.0 L1101.6,550.0 L1106.4,548.4 L1109.0,543.0 L1112.4,533.0 L1115.0,530.6 L1119.0,536.0 L1124.0,543.6 L1127.0,545.4 L1130.0,543.6 L1134.4,537.6 L1137.4,541.0 L1140.4,539.4 L1146.4,542.0 L1151.6,535.6 L1154.4,534.6 L1158.0,528.0 L1162.4,524.6 L1165.0,529.6 L1168.0,535.6 L1171.6,533.0 L1175.0,539.6 L1177.4,543.0 L1180.0,551.0 L1182.4,550.0 L1185.0,545.0 L1187.6,542.0 L1193.0,546.4 L1197.0,545.4 L1202.4,546.4 L1205.0,544.0 L1208.0,539.6 L1211.0,537.0 L1213.4,534.4 L1216.0,538.0 L1218.6,552.0 L1221.0,567.0 L1224.6,570.0 L1228.0,562.0 L1232.0,556.0 L1235.6,551.0 L1238.4,556.0 L1241.0,557.4 L1243.6,553.6 L1246.0,553.0 L1248.6,547.0 L1251.0,538.0 L1253.0,528.0 L1255.0,510.0 L1258.0,494.0 L1260.6,486.4 L1264.0,487.4 L1268.4,486.6 L1272.0,470.0 L1276.0,455.0 L1279.0,448.0 L1283.0,440.0 L1285.6,433.0 L1288.4,437.4 L1291.6,432.0 L1294.0,427.4 L1297.0,436.4 L1299.6,438.0 L1302.4,438.6 L1306.0,446.0 L1309.0,456.0 L1311.6,468.0 L1314.4,471.6 L1317.0,477.0 L1319.6,491.0 L1322.0,492.0 L1325.0,508.0 L1327.4,522.0 L1330.0,518.0 L1333.6,513.4 L1336.4,513.6 L1339.0,519.6 L1341.6,522.0 L1344.4,519.6 L1347.0,522.0 L1350.0,522.0 L1352.4,517.6 L1356.0,520.4 L1359.0,521.4 L1362.0,525.0 L1364.4,526.0 L1367.0,531.0 L1370.0,534.4 L1375.0,529.6 L1380.4,525.0 L1383.6,529.0 L1386.4,533.4 L1389.4,536.0 L1392.0,536.0 L1395.0,530.4 L1397.6,529.4" fill="none" stroke="#1d3d7d" stroke-width="1.6" stroke-linejoin="round"/>
<rect x="38" y="23" width="1364" height="1.3" fill="#101d55"/>
<rect x="38" y="215.7" width="1364" height="1.4" fill="#101d55"/>
<rect x="38" y="23" width="1.1" height="385" fill="#101d55"/>
<rect x="1401.4" y="23" width="1.1" height="385" fill="#101d55"/>
<rect x="38" y="407.8" width="1365" height="1.1" fill="#101d55"/>
<rect x="38" y="421" width="1365" height="1.1" fill="#101d55"/>
<rect x="38" y="421" width="1.1" height="193" fill="#101d55"/>
<rect x="1401.4" y="421" width="1.1" height="193" fill="#101d55"/>
<rect x="38" y="613.8" width="1365" height="1.1" fill="#101d55"/>
<line x1="38" y1="409.3" x2="1402" y2="409.3" stroke="#101d55" stroke-width="1" stroke-dasharray="1,1.795"/>
<line x1="38" y1="420.6" x2="1402" y2="420.6" stroke="#101d55" stroke-width="1" stroke-dasharray="1,1.795"/>
<line x1="38" y1="615.3" x2="1402" y2="615.3" stroke="#101d55" stroke-width="1" stroke-dasharray="1,1.795"/>
<line x1="1403.6" y1="228" x2="1403.6" y2="408" stroke="#101d55" stroke-width="1.2" stroke-dasharray="1,1.6"/>
<line x1="1403.6" y1="433" x2="1403.6" y2="614" stroke="#101d55" stroke-width="1.2" stroke-dasharray="1,1.6"/>
<polygon opacity="0.95" fill="#179d45" points="54.6,229.5 97.3,534.6 92.7,535.3 100.4,546.6 104.8,533.6 100.2,534.2 57.4,229.1"/>
<polygon opacity="0.95" fill="#179d45" points="197.6,197.3 258.4,500.2 253.8,501.1 262.2,512.0 265.8,498.7 261.2,499.6 200.4,196.7"/>
<polygon opacity="0.95" fill="#179d45" points="311.6,181.5 344.4,514.9 339.8,515.4 347.1,527.0 352.0,514.2 347.3,514.6 314.4,181.3"/>
<polygon opacity="0.95" fill="#179d45" points="488.2,209.1 505.0,538.8 500.3,539.0 507.1,551.0 512.5,538.4 507.9,538.6 491.0,208.9"/>
<polygon opacity="0.95" fill="#179d45" points="586.2,176.1 606.5,521.2 601.8,521.5 608.7,533.4 614.0,520.8 609.4,521.0 589.0,175.9"/>
<polygon opacity="0.95" fill="#179d45" points="739.6,133.1 769.7,515.8 765.0,516.2 772.1,528.0 777.2,515.3 772.6,515.6 742.4,132.9"/>
<polygon opacity="0.95" fill="#179d45" points="806.6,70.1 858.4,569.9 853.8,570.4 861.1,582.0 865.9,569.1 861.3,569.6 809.4,69.9"/>
<polygon opacity="0.95" fill="#179d45" points="873.2,115.1 899.8,538.8 895.2,539.1 902.1,551.0 907.4,538.3 902.7,538.6 876.0,114.9"/>
<polygon opacity="0.95" fill="#179d45" points="1014.0,216.1 1045.5,549.9 1040.9,550.3 1048.1,562.0 1053.0,549.2 1048.4,549.6 1016.8,215.9"/>
<polygon opacity="0.95" fill="#179d45" points="1178.2,162.8 1221.6,528.4 1217.0,528.9 1224.5,540.4 1229.1,527.5 1224.5,528.0 1181.0,162.4"/>
<polygon opacity="0.95" fill="#179d45" points="1318.2,185.2 1369.3,483.5 1364.7,484.3 1372.8,495.4 1376.7,482.2 1372.1,483.0 1321.0,184.8"/>
<rect x="41.5" y="28.6" width="7" height="2" fill="#1d3d7d"/>
<rect x="41.5" y="38.4" width="7" height="2" fill="#1d3d7d"/>
<rect x="41.5" y="436.5" width="7" height="2" fill="#1d3d7d"/>
<path d="M1401,30.5 L1405,25 L1446,25 L1446,36 L1405,36 Z" fill="#fff" stroke="#101d55" stroke-width="1.5"/>
<path d="M1401,222.25 L1405,217.5 L1436,217.5 L1436,227 L1405,227 Z" fill="#fff" stroke="#222" stroke-width="1.2"/>
<path d="M1401,427.75 L1405,423 L1436,423 L1436,432.5 L1405,432.5 Z" fill="#fff" stroke="#222" stroke-width="1.2"/>
<path d="M1401,529.0 L1405,524.5 L1426,524.5 L1426,533.5 L1405,533.5 Z" fill="#fff" stroke="#1d3d7d" stroke-width="1.2"/>
<path d="M1396.2,20.8 l3,-3.7 l3,3.7z" fill="#2e8b3e"/>
</svg>
<div class="t" style="left:38.5px;top:-1.20px;font-size:12px;line-height:14px;color:#111;font-weight:bold;letter-spacing:-0.45px;">$$CPI</div><div class="t" style="left:73.7px;top:0.53px;font-size:9.75px;line-height:11.75px;color:#111;font-weight:normal;letter-spacing:0px;">Consumer Price Index (Seas. Adj.)</div><div class="t" style="left:227.5px;top:1.80px;font-size:8px;line-height:10px;color:#111;font-weight:normal;letter-spacing:0px;">INDX</div><div class="t" style="left:38.5px;top:12.80px;font-size:9px;line-height:11px;color:#111;font-weight:normal;letter-spacing:0px;">1-Jul-2025</div><div class="t" style="right:38.200000000000045px;top:0.20px;font-size:9.6px;line-height:11.6px;color:#555;font-weight:normal;letter-spacing:0px;">&copy;StockCharts.com</div><div class="t" style="left:1056.8px;top:12.35px;font-size:9.9px;line-height:11.9px;color:#111;font-weight:bold;letter-spacing:0px;">Open</div><div class="t" style="left:1086.1px;top:12.75px;font-size:9.3px;line-height:11.3px;color:#111;font-weight:normal;letter-spacing:0px;">322.13</div><div class="t" style="left:1120px;top:12.35px;font-size:9.9px;line-height:11.9px;color:#111;font-weight:bold;letter-spacing:0px;">High</div><div class="t" style="left:1145.8px;top:12.75px;font-size:9.3px;line-height:11.3px;color:#111;font-weight:normal;letter-spacing:0px;">322.13</div><div class="t" style="left:1179.7px;top:12.35px;font-size:9.9px;line-height:11.9px;color:#111;font-weight:bold;letter-spacing:0px;">Low</div><div class="t" style="left:1204.7px;top:12.75px;font-size:9.3px;line-height:11.3px;color:#111;font-weight:normal;letter-spacing:0px;">322.13</div><div class="t" style="left:1239.1px;top:12.35px;font-size:9.9px;line-height:11.9px;color:#111;font-weight:bold;letter-spacing:0px;">Close</div><div class="t" style="left:1271.2px;top:12.75px;font-size:9.3px;line-height:11.3px;color:#111;font-weight:normal;letter-spacing:0px;">322.13</div><div class="t" style="left:1305.9px;top:12.35px;font-size:9.9px;line-height:11.9px;color:#111;font-weight:bold;letter-spacing:0px;">Chg</div><div class="t" style="left:1328.2px;top:12.75px;font-size:9.3px;line-height:11.3px;color:#111;font-weight:normal;letter-spacing:0px;">+0.63 (+0.20%)</div><div class="t" style="left:51.7px;top:24.90px;font-size:9px;line-height:11px;color:#111;font-weight:normal;letter-spacing:1.09px;-webkit-text-stroke:0.12px #111;">Gold - Spot (EOD) 3288.50 (31 Jul)</div><div class="t" style="left:50px;top:33.95px;font-size:8.5px;line-height:10.5px;color:#1d3d7d;font-weight:normal;letter-spacing:0px;"><span style="color:#1d3d7d">KST 535.23</span><span style="color:#e22">, 446.27</span></div><div class="t" style="left:52px;top:217.50px;font-size:9px;line-height:11px;color:#111;font-weight:normal;letter-spacing:1.09px;-webkit-text-stroke:0.12px #111;">Consumer Price Index (Seas. Adj.)</div><div class="t" style="left:52px;top:422.80px;font-size:9px;line-height:11px;color:#111;font-weight:normal;letter-spacing:1.09px;-webkit-text-stroke:0.12px #111;">Consumer Price Index (Seas. Adj.)</div><div class="t" style="left:50px;top:432.00px;font-size:8.8px;line-height:10.8px;color:#1d3d7d;font-weight:normal;letter-spacing:0px;">ROC(12) 2.73%</div><div class="t" style="left:56.2px;top:50.65px;font-size:17.3px;line-height:19.3px;color:#0000ff;font-weight:normal;letter-spacing:0px;-webkit-text-stroke:0.5px #0000ff;">Gold Long-term KST</div><div class="t" style="left:56.2px;top:577.95px;font-size:17.3px;line-height:19.3px;color:#0000ff;font-weight:normal;letter-spacing:0.1px;-webkit-text-stroke:0.2px #0000ff;">CPI 12 ROC</div><div class="t" style="left:1363.8px;top:542.10px;font-size:17px;line-height:19px;color:#1fa149;font-weight:normal;letter-spacing:0px;-webkit-text-stroke:0.3px #1fa149;">??</div><div class="t" style="right:1406px;top:196.60px;font-size:9px;line-height:11px;color:#111;font-weight:normal;letter-spacing:0px;">-200</div><div style="position:absolute;left:35px;top:200.8px;width:3px;height:1px;background:#111"></div><div class="t" style="right:1406px;top:173.25px;font-size:9px;line-height:11px;color:#111;font-weight:normal;letter-spacing:0px;">-100</div><div style="position:absolute;left:35px;top:177.4px;width:3px;height:1px;background:#111"></div><div class="t" style="right:1406px;top:149.90px;font-size:9px;line-height:11px;color:#111;font-weight:normal;letter-spacing:0px;">0</div><div style="position:absolute;left:35px;top:154.1px;width:3px;height:1px;background:#111"></div><div class="t" style="right:1406px;top:126.55px;font-size:9px;line-height:11px;color:#111;font-weight:normal;letter-spacing:0px;">100</div><div style="position:absolute;left:35px;top:130.8px;width:3px;height:1px;background:#111"></div><div class="t" style="right:1406px;top:103.20px;font-size:9px;line-height:11px;color:#111;font-weight:normal;letter-spacing:0px;">200</div><div style="position:absolute;left:35px;top:107.4px;width:3px;height:1px;background:#111"></div><div class="t" style="right:1406px;top:79.85px;font-size:9px;line-height:11px;color:#111;font-weight:normal;letter-spacing:0px;">300</div><div style="position:absolute;left:35px;top:84.0px;width:3px;height:1px;background:#111"></div><div class="t" style="right:1406px;top:56.50px;font-size:9px;line-height:11px;color:#111;font-weight:normal;letter-spacing:0px;">400</div><div style="position:absolute;left:35px;top:60.7px;width:3px;height:1px;background:#111"></div><div class="t" style="right:1406px;top:33.15px;font-size:9px;line-height:11px;color:#111;font-weight:normal;letter-spacing:0px;">500</div><div style="position:absolute;left:35px;top:37.3px;width:3px;height:1px;background:#111"></div><div class="t" style="left:1406px;top:204.16px;font-size:9px;line-height:11px;color:#111;font-weight:normal;letter-spacing:0px;">250</div><div style="position:absolute;left:1403px;top:209.3px;width:2px;height:1px;background:#14235f"></div><div class="t" style="left:1406px;top:189.43px;font-size:9px;line-height:11px;color:#111;font-weight:normal;letter-spacing:0px;">500</div><div style="position:absolute;left:1403px;top:194.5px;width:2px;height:1px;background:#14235f"></div><div class="t" style="left:1406px;top:174.70px;font-size:9px;line-height:11px;color:#111;font-weight:normal;letter-spacing:0px;">750</div><div style="position:absolute;left:1403px;top:179.8px;width:2px;height:1px;background:#14235f"></div><div class="t" style="left:1406px;top:159.97px;font-size:9px;line-height:11px;color:#111;font-weight:normal;letter-spacing:0px;">1000</div><div style="position:absolute;left:1403px;top:165.1px;width:2px;height:1px;background:#14235f"></div><div class="t" style="left:1406px;top:145.24px;font-size:9px;line-height:11px;color:#111;font-weight:normal;letter-spacing:0px;">1250</div><div style="position:absolute;left:1403px;top:150.3px;width:2px;height:1px;background:#14235f"></div><div class="t" style="left:1406px;top:130.51px;font-size:9px;line-height:11px;color:#111;font-weight:normal;letter-spacing:0px;">1500</div><div style="position:absolute;left:1403px;top:135.6px;width:2px;height:1px;background:#14235f"></div><div class="t" style="left:1406px;top:115.78px;font-size:9px;line-height:11px;color:#111;font-weight:normal;letter-spacing:0px;">1750</div><div style="position:absolute;left:1403px;top:120.9px;width:2px;height:1px;background:#14235f"></div><div class="t" style="left:1406px;top:101.05px;font-size:9px;line-height:11px;color:#111;font-weight:normal;letter-spacing:0px;">2000</div><div style="position:absolute;left:1403px;top:106.2px;width:2px;height:1px;background:#14235f"></div><div class="t" style="left:1406px;top:86.32px;font-size:9px;line-height:11px;color:#111;font-weight:normal;letter-spacing:0px;">2250</div><div style="position:absolute;left:1403px;top:91.4px;width:2px;height:1px;background:#14235f"></div><div class="t" style="left:1406px;top:71.59px;font-size:9px;line-height:11px;color:#111;font-weight:normal;letter-spacing:0px;">2500</div><div style="position:absolute;left:1403px;top:76.7px;width:2px;height:1px;background:#14235f"></div><div class="t" style="left:1406px;top:56.86px;font-size:9px;line-height:11px;color:#111;font-weight:normal;letter-spacing:0px;">2750</div><div style="position:absolute;left:1403px;top:62.0px;width:2px;height:1px;background:#14235f"></div><div class="t" style="left:1406px;top:42.13px;font-size:9px;line-height:11px;color:#111;font-weight:normal;letter-spacing:0px;">3000</div><div style="position:absolute;left:1403px;top:47.2px;width:2px;height:1px;background:#14235f"></div><div class="t" style="left:1406px;top:228.80px;font-size:9px;line-height:11px;color:#111;font-weight:normal;letter-spacing:0px;">300</div><div class="t" style="left:1406px;top:240.80px;font-size:9px;line-height:11px;color:#111;font-weight:normal;letter-spacing:0px;">280</div><div class="t" style="left:1406px;top:251.80px;font-size:9px;line-height:11px;color:#111;font-weight:normal;letter-spacing:0px;">260</div><div class="t" style="left:1406px;top:264.80px;font-size:9px;line-height:11px;color:#111;font-weight:normal;letter-spacing:0px;">240</div><div class="t" style="left:1406px;top:278.80px;font-size:9px;line-height:11px;color:#111;font-weight:normal;letter-spacing:0px;">220</div><div class="t" style="left:1406px;top:293.80px;font-size:9px;line-height:11px;color:#111;font-weight:normal;letter-spacing:0px;">200</div><div class="t" style="left:1406px;top:310.80px;font-size:9px;line-height:11px;color:#111;font-weight:normal;letter-spacing:0px;">180</div><div class="t" style="left:1406px;top:329.80px;font-size:9px;line-height:11px;color:#111;font-weight:normal;letter-spacing:0px;">160</div><div class="t" style="left:1406px;top:351.80px;font-size:9px;line-height:11px;color:#111;font-weight:normal;letter-spacing:0px;">140</div><div class="t" style="left:1406px;top:376.80px;font-size:9px;line-height:11px;color:#111;font-weight:normal;letter-spacing:0px;">120</div><div class="t" style="left:1406px;top:440.90px;font-size:9px;line-height:11px;color:#111;font-weight:normal;letter-spacing:0px;">300</div><div class="t" style="left:1406px;top:456.90px;font-size:9px;line-height:11px;color:#111;font-weight:normal;letter-spacing:0px;">280</div><div class="t" style="left:1406px;top:473.90px;font-size:9px;line-height:11px;color:#111;font-weight:normal;letter-spacing:0px;">260</div><div class="t" style="left:1406px;top:490.90px;font-size:9px;line-height:11px;color:#111;font-weight:normal;letter-spacing:0px;">240</div><div class="t" style="left:1406px;top:507.90px;font-size:9px;line-height:11px;color:#111;font-weight:normal;letter-spacing:0px;">220</div><div class="t" style="left:1406px;top:540.90px;font-size:9px;line-height:11px;color:#111;font-weight:normal;letter-spacing:0px;">180</div><div class="t" style="left:1406px;top:556.90px;font-size:9px;line-height:11px;color:#111;font-weight:normal;letter-spacing:0px;">160</div><div class="t" style="left:1406px;top:573.90px;font-size:9px;line-height:11px;color:#111;font-weight:normal;letter-spacing:0px;">140</div><div class="t" style="left:1406px;top:589.90px;font-size:9px;line-height:11px;color:#111;font-weight:normal;letter-spacing:0px;">120</div><div class="t" style="right:1406px;top:602.10px;font-size:9px;line-height:11px;color:#111;font-weight:normal;letter-spacing:0px;">-2</div><div style="position:absolute;left:35px;top:606.8px;width:3px;height:1px;background:#111"></div><div class="t" style="right:1406px;top:587.10px;font-size:9px;line-height:11px;color:#111;font-weight:normal;letter-spacing:0px;">-1</div><div style="position:absolute;left:35px;top:591.8px;width:3px;height:1px;background:#111"></div><div class="t" style="right:1406px;top:570.20px;font-size:9px;line-height:11px;color:#111;font-weight:normal;letter-spacing:0px;">0</div><div style="position:absolute;left:35px;top:574.9px;width:3px;height:1px;background:#111"></div><div class="t" style="right:1406px;top:553.30px;font-size:9px;line-height:11px;color:#111;font-weight:normal;letter-spacing:0px;">1</div><div style="position:absolute;left:35px;top:558.0px;width:3px;height:1px;background:#111"></div><div class="t" style="right:1406px;top:536.40px;font-size:9px;line-height:11px;color:#111;font-weight:normal;letter-spacing:0px;">2</div><div style="position:absolute;left:35px;top:541.1px;width:3px;height:1px;background:#111"></div><div class="t" style="right:1406px;top:519.50px;font-size:9px;line-height:11px;color:#111;font-weight:normal;letter-spacing:0px;">3</div><div style="position:absolute;left:35px;top:524.2px;width:3px;height:1px;background:#111"></div><div class="t" style="right:1406px;top:502.60px;font-size:9px;line-height:11px;color:#111;font-weight:normal;letter-spacing:0px;">4</div><div style="position:absolute;left:35px;top:507.3px;width:3px;height:1px;background:#111"></div><div class="t" style="right:1406px;top:485.70px;font-size:9px;line-height:11px;color:#111;font-weight:normal;letter-spacing:0px;">5</div><div style="position:absolute;left:35px;top:490.4px;width:3px;height:1px;background:#111"></div><div class="t" style="right:1406px;top:468.80px;font-size:9px;line-height:11px;color:#111;font-weight:normal;letter-spacing:0px;">6</div><div style="position:absolute;left:35px;top:473.5px;width:3px;height:1px;background:#111"></div><div class="t" style="right:1406px;top:451.90px;font-size:9px;line-height:11px;color:#111;font-weight:normal;letter-spacing:0px;">7</div><div style="position:absolute;left:35px;top:456.6px;width:3px;height:1px;background:#111"></div><div class="t" style="right:1406px;top:435.00px;font-size:9px;line-height:11px;color:#111;font-weight:normal;letter-spacing:0px;">8</div><div style="position:absolute;left:35px;top:439.7px;width:3px;height:1px;background:#111"></div><div class="t" style="right:1406px;top:418.30px;font-size:9px;line-height:11px;color:#111;font-weight:normal;letter-spacing:0px;">9</div><div style="position:absolute;left:35px;top:423.0px;width:3px;height:1px;background:#111"></div><div class="t" style="left:-61px;width:200px;text-align:center;top:409.80px;font-size:9px;line-height:11px;color:#111;font-weight:normal;letter-spacing:0px;">1985</div><div class="t" style="left:-61px;width:200px;text-align:center;top:615.50px;font-size:9px;line-height:11px;color:#111;font-weight:normal;letter-spacing:0px;">1985</div><div class="t" style="left:-28px;width:200px;text-align:center;top:409.80px;font-size:9px;line-height:11px;color:#111;font-weight:normal;letter-spacing:0px;">1986</div><div class="t" style="left:-28px;width:200px;text-align:center;top:615.50px;font-size:9px;line-height:11px;color:#111;font-weight:normal;letter-spacing:0px;">1986</div><div class="t" style="left:6px;width:200px;text-align:center;top:409.80px;font-size:9px;line-height:11px;color:#111;font-weight:normal;letter-spacing:0px;">1987</div><div class="t" style="left:6px;width:200px;text-align:center;top:615.50px;font-size:9px;line-height:11px;color:#111;font-weight:normal;letter-spacing:0px;">1987</div><div class="t" style="left:39px;width:200px;text-align:center;top:409.80px;font-size:9px;line-height:11px;color:#111;font-weight:normal;letter-spacing:0px;">1988</div><div class="t" style="left:39px;width:200px;text-align:center;top:615.50px;font-size:9px;line-height:11px;color:#111;font-weight:normal;letter-spacing:0px;">1988</div><div class="t" style="left:73px;width:200px;text-align:center;top:409.80px;font-size:9px;line-height:11px;color:#111;font-weight:normal;letter-spacing:0px;">1989</div><div class="t" style="left:73px;width:200px;text-align:center;top:615.50px;font-size:9px;line-height:11px;color:#111;font-weight:normal;letter-spacing:0px;">1989</div><div class="t" style="left:106px;width:200px;text-align:center;top:409.80px;font-size:9px;line-height:11px;color:#111;font-weight:normal;letter-spacing:0px;">1990</div><div class="t" style="left:106px;width:200px;text-align:center;top:615.50px;font-size:9px;line-height:11px;color:#111;font-weight:normal;letter-spacing:0px;">1990</div><div class="t" style="left:140px;width:200px;text-align:center;top:409.80px;font-size:9px;line-height:11px;color:#111;font-weight:normal;letter-spacing:0px;">1991</div><div class="t" style="left:140px;width:200px;text-align:center;top:615.50px;font-size:9px;line-height:11px;color:#111;font-weight:normal;letter-spacing:0px;">1991</div><div class="t" style="left:173px;width:200px;text-align:center;top:409.80px;font-size:9px;line-height:11px;color:#111;font-weight:normal;letter-spacing:0px;">1992</div><div class="t" style="left:173px;width:200px;text-align:center;top:615.50px;font-size:9px;line-height:11px;color:#111;font-weight:normal;letter-spacing:0px;">1992</div><div class="t" style="left:207px;width:200px;text-align:center;top:409.80px;font-size:9px;line-height:11px;color:#111;font-weight:normal;letter-spacing:0px;">1993</div><div class="t" style="left:207px;width:200px;text-align:center;top:615.50px;font-size:9px;line-height:11px;color:#111;font-weight:normal;letter-spacing:0px;">1993</div><div class="t" style="left:240px;width:200px;text-align:center;top:409.80px;font-size:9px;line-height:11px;color:#111;font-weight:normal;letter-spacing:0px;">1994</div><div class="t" style="left:240px;width:200px;text-align:center;top:615.50px;font-size:9px;line-height:11px;color:#111;font-weight:normal;letter-spacing:0px;">1994</div><div class="t" style="left:274px;width:200px;text-align:center;top:409.80px;font-size:9px;line-height:11px;color:#111;font-weight:normal;letter-spacing:0px;">1995</div><div class="t" style="left:274px;width:200px;text-align:center;top:615.50px;font-size:9px;line-height:11px;color:#111;font-weight:normal;letter-spacing:0px;">1995</div><div class="t" style="left:307px;width:200px;text-align:center;top:409.80px;font-size:9px;line-height:11px;color:#111;font-weight:normal;letter-spacing:0px;">1996</div><div class="t" style="left:307px;width:200px;text-align:center;top:615.50px;font-size:9px;line-height:11px;color:#111;font-weight:normal;letter-spacing:0px;">1996</div><div class="t" style="left:341px;width:200px;text-align:center;top:409.80px;font-size:9px;line-height:11px;color:#111;font-weight:normal;letter-spacing:0px;">1997</div><div class="t" style="left:341px;width:200px;text-align:center;top:615.50px;font-size:9px;line-height:11px;color:#111;font-weight:normal;letter-spacing:0px;">1997</div><div class="t" style="left:374px;width:200px;text-align:center;top:409.80px;font-size:9px;line-height:11px;color:#111;font-weight:normal;letter-spacing:0px;">1998</div><div class="t" style="left:374px;width:200px;text-align:center;top:615.50px;font-size:9px;line-height:11px;color:#111;font-weight:normal;letter-spacing:0px;">1998</div><div class="t" style="left:408px;width:200px;text-align:center;top:409.80px;font-size:9px;line-height:11px;color:#111;font-weight:normal;letter-spacing:0px;">1999</div><div class="t" style="left:408px;width:200px;text-align:center;top:615.50px;font-size:9px;line-height:11px;color:#111;font-weight:normal;letter-spacing:0px;">1999</div><div class="t" style="left:442px;width:200px;text-align:center;top:409.80px;font-size:9px;line-height:11px;color:#111;font-weight:normal;letter-spacing:0px;">2000</div><div class="t" style="left:442px;width:200px;text-align:center;top:615.50px;font-size:9px;line-height:11px;color:#111;font-weight:normal;letter-spacing:0px;">2000</div><div class="t" style="left:475px;width:200px;text-align:center;top:409.80px;font-size:9px;line-height:11px;color:#111;font-weight:normal;letter-spacing:0px;">2001</div><div class="t" style="left:475px;width:200px;text-align:center;top:615.50px;font-size:9px;line-height:11px;color:#111;font-weight:normal;letter-spacing:0px;">2001</div><div class="t" style="left:509px;width:200px;text-align:center;top:409.80px;font-size:9px;line-height:11px;color:#111;font-weight:normal;letter-spacing:0px;">2002</div><div class="t" style="left:509px;width:200px;text-align:center;top:615.50px;font-size:9px;line-height:11px;color:#111;font-weight:normal;letter-spacing:0px;">2002</div><div class="t" style="left:542px;width:200px;text-align:center;top:409.80px;font-size:9px;line-height:11px;color:#111;font-weight:normal;letter-spacing:0px;">2003</div><div class="t" style="left:542px;width:200px;text-align:center;top:615.50px;font-size:9px;line-height:11px;color:#111;font-weight:normal;letter-spacing:0px;">2003</div><div class="t" style="left:576px;width:200px;text-align:center;top:409.80px;font-size:9px;line-height:11px;color:#111;font-weight:normal;letter-spacing:0px;">2004</div><div class="t" style="left:576px;width:200px;text-align:center;top:615.50px;font-size:9px;line-height:11px;color:#111;font-weight:normal;letter-spacing:0px;">2004</div><div class="t" style="left:609px;width:200px;text-align:center;top:409.80px;font-size:9px;line-height:11px;color:#111;font-weight:normal;letter-spacing:0px;">2005</div><div class="t" style="left:609px;width:200px;text-align:center;top:615.50px;font-size:9px;line-height:11px;color:#111;font-weight:normal;letter-spacing:0px;">2005</div><div class="t" style="left:643px;width:200px;text-align:center;top:409.80px;font-size:9px;line-height:11px;color:#111;font-weight:normal;letter-spacing:0px;">2006</div><div class="t" style="left:643px;width:200px;text-align:center;top:615.50px;font-size:9px;line-height:11px;color:#111;font-weight:normal;letter-spacing:0px;">2006</div><div class="t" style="left:676px;width:200px;text-align:center;top:409.80px;font-size:9px;line-height:11px;color:#111;font-weight:normal;letter-spacing:0px;">2007</div><div class="t" style="left:676px;width:200px;text-align:center;top:615.50px;font-size:9px;line-height:11px;color:#111;font-weight:normal;letter-spacing:0px;">2007</div><div class="t" style="left:710px;width:200px;text-align:center;top:409.80px;font-size:9px;line-height:11px;color:#111;font-weight:normal;letter-spacing:0px;">2008</div><div class="t" style="left:710px;width:200px;text-align:center;top:615.50px;font-size:9px;line-height:11px;color:#111;font-weight:normal;letter-spacing:0px;">2008</div><div class="t" style="left:743px;width:200px;text-align:center;top:409.80px;font-size:9px;line-height:11px;color:#111;font-weight:normal;letter-spacing:0px;">2009</div><div class="t" style="left:743px;width:200px;text-align:center;top:615.50px;font-size:9px;line-height:11px;color:#111;font-weight:normal;letter-spacing:0px;">2009</div><div class="t" style="left:777px;width:200px;text-align:center;top:409.80px;font-size:9px;line-height:11px;color:#111;font-weight:normal;letter-spacing:0px;">2010</div><div class="t" style="left:777px;width:200px;text-align:center;top:615.50px;font-size:9px;line-height:11px;color:#111;font-weight:normal;letter-spacing:0px;">2010</div><div class="t" style="left:810px;width:200px;text-align:center;top:409.80px;font-size:9px;line-height:11px;color:#111;font-weight:normal;letter-spacing:0px;">2011</div><div class="t" style="left:810px;width:200px;text-align:center;top:615.50px;font-size:9px;line-height:11px;color:#111;font-weight:normal;letter-spacing:0px;">2011</div><div class="t" style="left:844px;width:200px;text-align:center;top:409.80px;font-size:9px;line-height:11px;color:#111;font-weight:normal;letter-spacing:0px;">2012</div><div class="t" style="left:844px;width:200px;text-align:center;top:615.50px;font-size:9px;line-height:11px;color:#111;font-weight:normal;letter-spacing:0px;">2012</div><div class="t" style="left:877px;width:200px;text-align:center;top:409.80px;font-size:9px;line-height:11px;color:#111;font-weight:normal;letter-spacing:0px;">2013</div><div class="t" style="left:877px;width:200px;text-align:center;top:615.50px;font-size:9px;line-height:11px;color:#111;font-weight:normal;letter-spacing:0px;">2013</div><div class="t" style="left:911px;width:200px;text-align:center;top:409.80px;font-size:9px;line-height:11px;color:#111;font-weight:normal;letter-spacing:0px;">2014</div><div class="t" style="left:911px;width:200px;text-align:center;top:615.50px;font-size:9px;line-height:11px;color:#111;font-weight:normal;letter-spacing:0px;">2014</div><div class="t" style="left:945px;width:200px;text-align:center;top:409.80px;font-size:9px;line-height:11px;color:#111;font-weight:normal;letter-spacing:0px;">2015</div><div class="t" style="left:945px;width:200px;text-align:center;top:615.50px;font-size:9px;line-height:11px;color:#111;font-weight:normal;letter-spacing:0px;">2015</div><div class="t" style="left:978px;width:200px;text-align:center;top:409.80px;font-size:9px;line-height:11px;color:#111;font-weight:normal;letter-spacing:0px;">2016</div><div class="t" style="left:978px;width:200px;text-align:center;top:615.50px;font-size:9px;line-height:11px;color:#111;font-weight:normal;letter-spacing:0px;">2016</div><div class="t" style="left:1012px;width:200px;text-align:center;top:409.80px;font-size:9px;line-height:11px;color:#111;font-weight:normal;letter-spacing:0px;">2017</div><div class="t" style="left:1012px;width:200px;text-align:center;top:615.50px;font-size:9px;line-height:11px;color:#111;font-weight:normal;letter-spacing:0px;">2017</div><div class="t" style="left:1045px;width:200px;text-align:center;top:409.80px;font-size:9px;line-height:11px;color:#111;font-weight:normal;letter-spacing:0px;">2018</div><div class="t" style="left:1045px;width:200px;text-align:center;top:615.50px;font-size:9px;line-height:11px;color:#111;font-weight:normal;letter-spacing:0px;">2018</div><div class="t" style="left:1079px;width:200px;text-align:center;top:409.80px;font-size:9px;line-height:11px;color:#111;font-weight:normal;letter-spacing:0px;">2019</div><div class="t" style="left:1079px;width:200px;text-align:center;top:615.50px;font-size:9px;line-height:11px;color:#111;font-weight:normal;letter-spacing:0px;">2019</div><div class="t" style="left:1112px;width:200px;text-align:center;top:409.80px;font-size:9px;line-height:11px;color:#111;font-weight:normal;letter-spacing:0px;">2020</div><div class="t" style="left:1112px;width:200px;text-align:center;top:615.50px;font-size:9px;line-height:11px;color:#111;font-weight:normal;letter-spacing:0px;">2020</div><div class="t" style="left:1146px;width:200px;text-align:center;top:409.80px;font-size:9px;line-height:11px;color:#111;font-weight:normal;letter-spacing:0px;">2021</div><div class="t" style="left:1146px;width:200px;text-align:center;top:615.50px;font-size:9px;line-height:11px;color:#111;font-weight:normal;letter-spacing:0px;">2021</div><div class="t" style="left:1179px;width:200px;text-align:center;top:409.80px;font-size:9px;line-height:11px;color:#111;font-weight:normal;letter-spacing:0px;">2022</div><div class="t" style="left:1179px;width:200px;text-align:center;top:615.50px;font-size:9px;line-height:11px;color:#111;font-weight:normal;letter-spacing:0px;">2022</div><div class="t" style="left:1213px;width:200px;text-align:center;top:409.80px;font-size:9px;line-height:11px;color:#111;font-weight:normal;letter-spacing:0px;">2023</div><div class="t" style="left:1213px;width:200px;text-align:center;top:615.50px;font-size:9px;line-height:11px;color:#111;font-weight:normal;letter-spacing:0px;">2023</div><div class="t" style="left:1246px;width:200px;text-align:center;top:409.80px;font-size:9px;line-height:11px;color:#111;font-weight:normal;letter-spacing:0px;">2024</div><div class="t" style="left:1246px;width:200px;text-align:center;top:615.50px;font-size:9px;line-height:11px;color:#111;font-weight:normal;letter-spacing:0px;">2024</div><div class="t" style="left:1280px;width:200px;text-align:center;top:409.80px;font-size:9px;line-height:11px;color:#111;font-weight:normal;letter-spacing:0px;">2025</div><div class="t" style="left:1280px;width:200px;text-align:center;top:615.50px;font-size:9px;line-height:11px;color:#111;font-weight:normal;letter-spacing:0px;">2025</div>
<svg width="1441" height="627" style="position:absolute;left:0;top:0;pointer-events:none">
<path d="M1400.7,50.7 L1404.6,46.3 L1436.4,46.3 L1436.4,55.1 L1404.6,55.1 Z" fill="#fff" stroke="#ee3a3a" stroke-width="1.1"/>
</svg>
<div class="t" style="left:1404.9px;top:25.00px;font-size:9.6px;line-height:11.6px;color:#000;font-weight:bold;letter-spacing:0px;">3288.50</div><div class="t" style="left:1405.2px;top:44.80px;font-size:9.8px;line-height:11.8px;color:#111;font-weight:normal;letter-spacing:0px;">446.27</div><div class="t" style="left:1405.2px;top:216.55px;font-size:9.5px;line-height:11.5px;color:#000;font-weight:bold;letter-spacing:0px;">322.13</div><div class="t" style="left:1405.2px;top:422.05px;font-size:9.5px;line-height:11.5px;color:#000;font-weight:bold;letter-spacing:0px;">322.13</div><div class="t" style="left:1405.2px;top:523.25px;font-size:9.5px;line-height:11.5px;color:#111;font-weight:normal;letter-spacing:0px;">2.73</div>
<svg width="1441" height="627" style="position:absolute;left:0;top:0;pointer-events:none"><g fill="#838ea4"><rect x="1417.3" y="11" width="5.6" height="1.8" rx="0.6"/><rect x="1412" y="12.2" width="16" height="2.5" rx="0.8"/><rect x="1413.1" y="16.1" width="13.8" height="12.2" rx="0.5"/></g><g fill="#b4cdf0"><rect x="1415.9" y="17.9" width="1.3" height="9.6"/><rect x="1419.2" y="17.9" width="1.2" height="9.6"/><rect x="1422.9" y="17.9" width="1.4" height="9.6"/></g></svg>
</body></html>
